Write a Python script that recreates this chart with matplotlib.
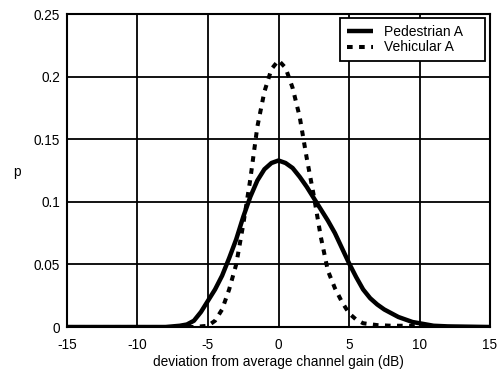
import numpy as np
import matplotlib
matplotlib.use("Agg")
from matplotlib import pyplot as plt

# values
ped_x = [-15, -8, -7, -6.5, -6, -5.5, -5, -4.5, -4, -3.5, -3, -2.5, -2, -1.5, -1, -0.5, 0,
         0.5, 1, 1.5, 2, 2.5, 3, 3.5, 4, 4.5, 5, 5.5, 6, 6.5, 7, 7.5, 8, 8.5, 9, 9.5, 10,
         11, 12, 15]
ped_p = [0, 0, 0.001, 0.002, 0.005, 0.012, 0.021, 0.030, 0.041, 0.055, 0.070, 0.088, 0.104,
         0.117, 0.126, 0.131, 0.133, 0.131, 0.127, 0.120, 0.112, 0.103, 0.094, 0.085, 0.075,
         0.063, 0.051, 0.040, 0.030, 0.023, 0.018, 0.014, 0.011, 0.008, 0.006, 0.004, 0.003,
         0.001, 0.0005, 0]

veh_x = [-15, -6, -5, -4.5, -4, -3.5, -3, -2.5, -2, -1.5, -1, -0.5, 0, 0.5, 1, 1.5, 2, 2.5,
         3, 3.5, 4, 4.5, 5, 5.5, 6, 7, 8, 9, 10, 11, 15]
veh_p = [0, 0, 0.001, 0.005, 0.014, 0.030, 0.050, 0.082, 0.118, 0.160, 0.188, 0.206, 0.213,
         0.207, 0.191, 0.168, 0.135, 0.105, 0.072, 0.045, 0.031, 0.020, 0.011, 0.006, 0.003,
         0.0015, 0.001, 0.001, 0.0005, 0, 0]

x_ticks = [-15, -10, -5, 0, 5, 10, 15]
y_ticks = [0, 0.05, 0.1, 0.15, 0.2, 0.25]
y_labels = ["0", "0.05", "0.1", "0.15", "0.2", "0.25"]

plt.rcParams['font.family'] = ['Liberation Sans', 'DejaVu Sans']
plt.rcParams['axes.unicode_minus'] = False

fig = plt.figure(figsize=(4.98, 3.69), dpi=100)
ax = fig.add_axes([0.1345, 0.1138, 0.8495, 0.8482])

# trailing spaces keep the legend box as wide as in the original
ax.plot(ped_x, ped_p, color="black", lw=3.2, solid_capstyle="butt", label="Pedestrian A    ")
ax.plot(veh_x, veh_p, color="black", lw=2.9, linestyle=(0, (1.4, 1.6)),
        dash_capstyle="butt", label="Vehicular A")

ax.set_xlim(-15, 15)
ax.set_ylim(0, 0.25)
ax.set_xticks(x_ticks)
ax.set_yticks(y_ticks)
ax.set_yticklabels(y_labels)
ax.grid(True, color="black", lw=1.3)
ax.tick_params(length=0, labelsize=9.8, colors="black")
ax.tick_params(axis="x", pad=8)
ax.tick_params(axis="y", pad=5)
for s in ax.spines.values():
    s.set_linewidth(1.5)
    s.set_color("black")

ax.set_xlabel("deviation from average channel gain (dB)", fontsize=9.8, va="center")
ax.xaxis.set_label_coords(0.5, -0.112)
ax.set_ylabel("p", fontsize=9.8, rotation=0, va="center", ha="center")
ax.yaxis.set_label_coords(-0.118, 0.495)

leg = ax.legend(loc="upper right", bbox_to_anchor=(0.988, 0.987), borderaxespad=0,
                fontsize=10, handlelength=1.9, frameon=True, fancybox=False,
                borderpad=0.5, labelspacing=0.1, handletextpad=0.8)
leg.get_frame().set_edgecolor("black")
leg.get_frame().set_linewidth(1.3)
leg.get_frame().set_alpha(1)

fig.savefig("out.png", dpi=100)
